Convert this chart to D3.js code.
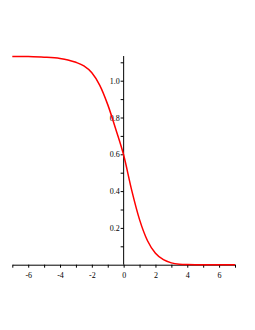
<!DOCTYPE html>
<html>
<head>
<meta charset="utf-8">
<script src="https://cdn.jsdelivr.net/npm/d3@7"></script>
<style>
  body { margin: 0; background: #fff; }
  text { font-family: "Liberation Serif", "DejaVu Serif", serif; font-size: 8px; fill: #000; }
</style>
</head>
<body>
<div id="chart"></div>
<script>
// values
var xs = [-7, -6, -5, -4, -3.5, -3, -2.5, -2, -1.5, -1, -0.5, 0, 0.5, 1, 1.5, 2, 2.5, 3, 3.5, 4, 5, 6, 7];
var ys = [1.132, 1.131, 1.128, 1.121, 1.113, 1.1, 1.08, 1.043, 0.975, 0.87, 0.738, 0.596, 0.407, 0.245, 0.13, 0.062, 0.027, 0.01, 0.003, 0.001, 0, 0, 0];
var xTickLabels = [-6, -4, -2, 0, 2, 4, 6];
var yTickLabels = [0.2, 0.4, 0.6, 0.8, 1.0];

var width = 255, height = 330;

var svg = d3.select("#chart")
    .append("svg")
    .attr("width", width)
    .attr("height", height);

var x = d3.scaleLinear()
    .domain([-7, 7])
    .range([12.3, 235]);

var y = d3.scaleLinear()
    .domain([0, 1])
    .range([264.7, 80.7]);

var yTop = 1.134;

// x axis: ticks every unit, labels on even numbers
var xAxis = d3.axisBottom(x)
    .tickValues(d3.range(-7, 8, 1))
    .tickSize(3)
    .tickSizeOuter(0)
    .tickFormat(function(d) { return xTickLabels.indexOf(d) >= 0 ? d : ""; });

var gx = svg.append("g")
    .attr("transform", "translate(0," + y(0) + ")")
    .call(xAxis);
gx.select(".domain").attr("stroke", "#000");
gx.selectAll("text").attr("dy", "0.9em").style("font-size", "8px")
    .text(function(d) { return xTickLabels.indexOf(d) >= 0 ? String(d) : ""; });

// y axis: minor ticks every 0.1, labels on 0.2 steps
var yAxis = d3.axisLeft(y)
    .tickValues(d3.range(1, 12).map(function(i) { return i / 10; }))
    .tickSize(3)
    .tickSizeOuter(0)
    .tickFormat(function(d) {
        var hit = yTickLabels.some(function(v) { return Math.abs(v - d) < 1e-6; });
        return hit ? d3.format(".1f")(d) : "";
    });

var gy = svg.append("g")
    .attr("transform", "translate(" + x(0) + ",0)")
    .call(yAxis);
gy.select(".domain").attr("d", "M0," + y(0) + "V" + y(yTop)).attr("stroke", "#000");
gy.selectAll("text").attr("x", -4).style("font-size", "8px");

// curve
var line = d3.line()
    .x(function(d, i) { return x(xs[i]); })
    .y(function(d, i) { return y(ys[i]); })
    .curve(d3.curveMonotoneX);

svg.append("path")
    .datum(ys)
    .attr("fill", "none")
    .attr("stroke", "#ff0000")
    .attr("stroke-width", 1.5)
    .attr("d", line);
</script>
</body>
</html>
